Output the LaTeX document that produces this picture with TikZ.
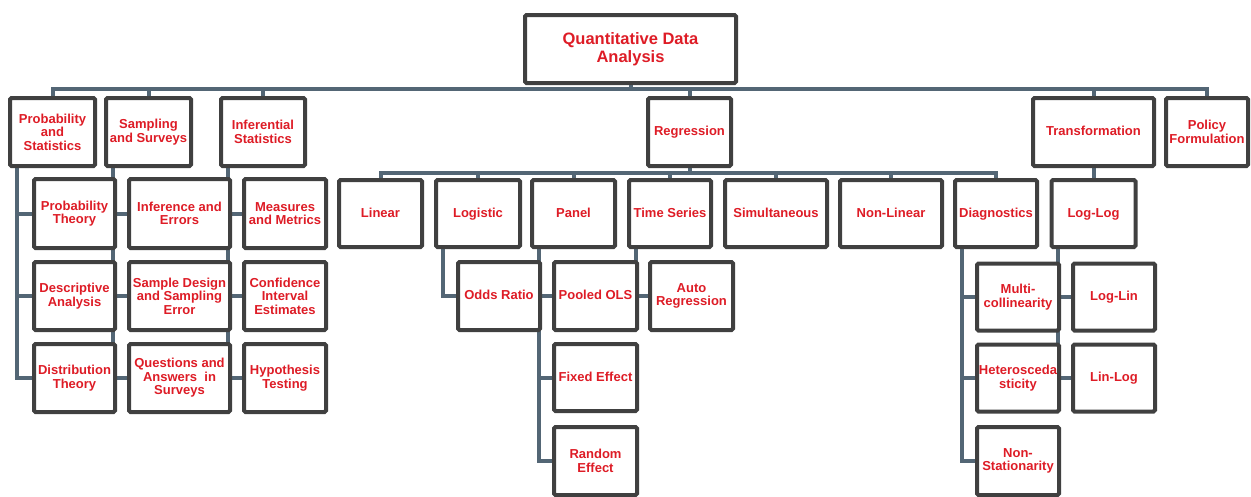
\documentclass[tikz,border=0pt]{standalone}
\usepackage{fontspec}
\setmainfont{Liberation Sans}
\usetikzlibrary{calc,backgrounds}
\definecolor{boxgray}{RGB}{64,64,64}
\definecolor{linecol}{RGB}{83,102,117}
\definecolor{txtred}{RGB}{222,28,38}
\tikzset{
  box/.style={draw=boxgray, line width=4pt, fill=white, rounded corners=1.5pt,
    inner sep=0pt, align=center, text=txtred,
    font=\bfseries\fontsize{13}{13.5}\selectfont},
  one/.style={text height=9.5pt, text depth=2.5pt},
  rootbox/.style={box, font=\bfseries\fontsize{16.5}{18}\selectfont},
  conn/.style={draw=linecol, line width=4pt}
}
\begin{document}
\begin{tikzpicture}[x=1pt,y=-1pt]
\useasboundingbox (0,0) rectangle (1251,496);
\coordinate (busA) at (0,89);
\coordinate (busB) at (0,173);

% ---- nodes ----
\node[rootbox, minimum width=211pt, minimum height=68pt] (root) at (630.5,49) {Quantitative Data\\Analysis};

\node[box, minimum width=85pt, minimum height=68pt] (ps) at (52.5,132) {Probability\\and\\Statistics};
\node[box, minimum width=85pt, minimum height=68pt] (ss) at (148.5,132) {Sampling\\and Surveys};
\node[box, minimum width=84pt, minimum height=68pt] (is) at (263,132) {Inferential\\Statistics};
\node[box, one, minimum width=83pt, minimum height=68pt] (reg) at (689.5,132) {Regression};
\node[box, one, minimum width=121pt, minimum height=68pt] (tr) at (1093.5,132) {Transformation};
\node[box, minimum width=82pt, minimum height=68pt] (pf) at (1207,132) {Policy\\Formulation};

\node[box, one, minimum width=83pt, minimum height=67pt] (lin) at (380.5,213.5) {Linear};
\node[box, one, minimum width=84pt, minimum height=67pt] (logi) at (478,213.5) {Logistic};
\node[box, one, minimum width=83pt, minimum height=67pt] (pan) at (573.5,213.5) {Panel};
\node[box, one, minimum width=82pt, minimum height=67pt] (ts) at (670,213.5) {Time Series};
\node[box, one, minimum width=102pt, minimum height=67pt] (sim) at (776,213.5) {Simultaneous};
\node[box, one, minimum width=102pt, minimum height=67pt] (nl) at (891,213.5) {Non-Linear};
\node[box, one, minimum width=82pt, minimum height=67pt] (diag) at (996,213.5) {Diagnostics};
\node[box, one, minimum width=84pt, minimum height=67pt] (ll) at (1093.5,213.5) {Log-Log};

% left grid
\node[box, minimum width=81pt, minimum height=69pt] (pt) at (74.5,213.5) {Probability\\Theory};
\node[box, minimum width=81pt, minimum height=68pt] (da) at (74.5,296) {Descriptive\\Analysis};
\node[box, minimum width=81pt, minimum height=68pt] (dt) at (74.5,378) {Distribution\\Theory};
\node[box, minimum width=101pt, minimum height=69pt] (ie) at (179.5,213.5) {Inference and\\Errors};
\node[box, minimum width=101pt, minimum height=68pt] (sd) at (179.5,296) {Sample Design\\and Sampling\\Error};
\node[box, minimum width=101pt, minimum height=68pt] (qa) at (179.5,378) {Questions and\\Answers\ \ in\\Surveys};
\node[box, minimum width=82pt, minimum height=69pt] (mm) at (285,213.5) {Measures\\and Metrics};
\node[box, minimum width=82pt, minimum height=68pt] (ci) at (285,296) {Confidence\\Interval\\Estimates};
\node[box, minimum width=82pt, minimum height=68pt] (ht) at (285,378) {Hypothesis\\Testing};

% regression children
\node[box, one, minimum width=82pt, minimum height=68pt] (odds) at (499,296) {Odds Ratio};
\node[box, one, minimum width=83pt, minimum height=68pt] (pool) at (595.5,296) {Pooled OLS};
\node[box, one, minimum width=83pt, minimum height=67pt] (fix) at (595.5,377.5) {Fixed Effect};
\node[box, minimum width=83pt, minimum height=68pt] (rand) at (595.5,461) {Random\\Effect};
\node[box, minimum width=83pt, minimum height=68pt] (auto) at (691.5,296) {Auto\\Regression};

\node[box, minimum width=82pt, minimum height=67pt] (multi) at (1018,297) {Multi-\\collinearity};
\node[box, minimum width=82pt, minimum height=67pt] (het) at (1018,378) {Heterosceda\\sticity};
\node[box, minimum width=82pt, minimum height=68pt] (nons) at (1018,461) {Non-\\Stationarity};
\node[box, one, minimum width=82pt, minimum height=67pt] (loglin) at (1114,297) {Log-Lin};
\node[box, one, minimum width=82pt, minimum height=67pt] (linlog) at (1114,378) {Lin-Log};

% ---- connectors (behind boxes) ----
\begin{scope}[on background layer]
  % top level bus
  \foreach \n in {ps,ss,is,reg,tr,pf}
    \draw[conn] (root.south) -- (root.south |- busA) -| (\n.north);
  % regression bus
  \foreach \n in {lin,logi,pan,ts,sim,nl,diag}
    \draw[conn] (reg.south) -- (reg.south |- busB) -| (\n.north);
  \draw[conn] (tr.south) -- (ll.north);
  % vertical trunks with side branches
  \foreach \p/\c in {ps/pt,ps/da,ps/dt,ss/ie,ss/sd,ss/qa,is/mm,is/ci,is/ht,
                     logi/odds,pan/pool,pan/fix,pan/rand,ts/auto,
                     diag/multi,diag/het,diag/nons,ll/loglin,ll/linlog}
    \draw[conn] ($(\p.south west)+(8.5,0)$) |- (\c.west);
\end{scope}
\end{tikzpicture}
\end{document}
